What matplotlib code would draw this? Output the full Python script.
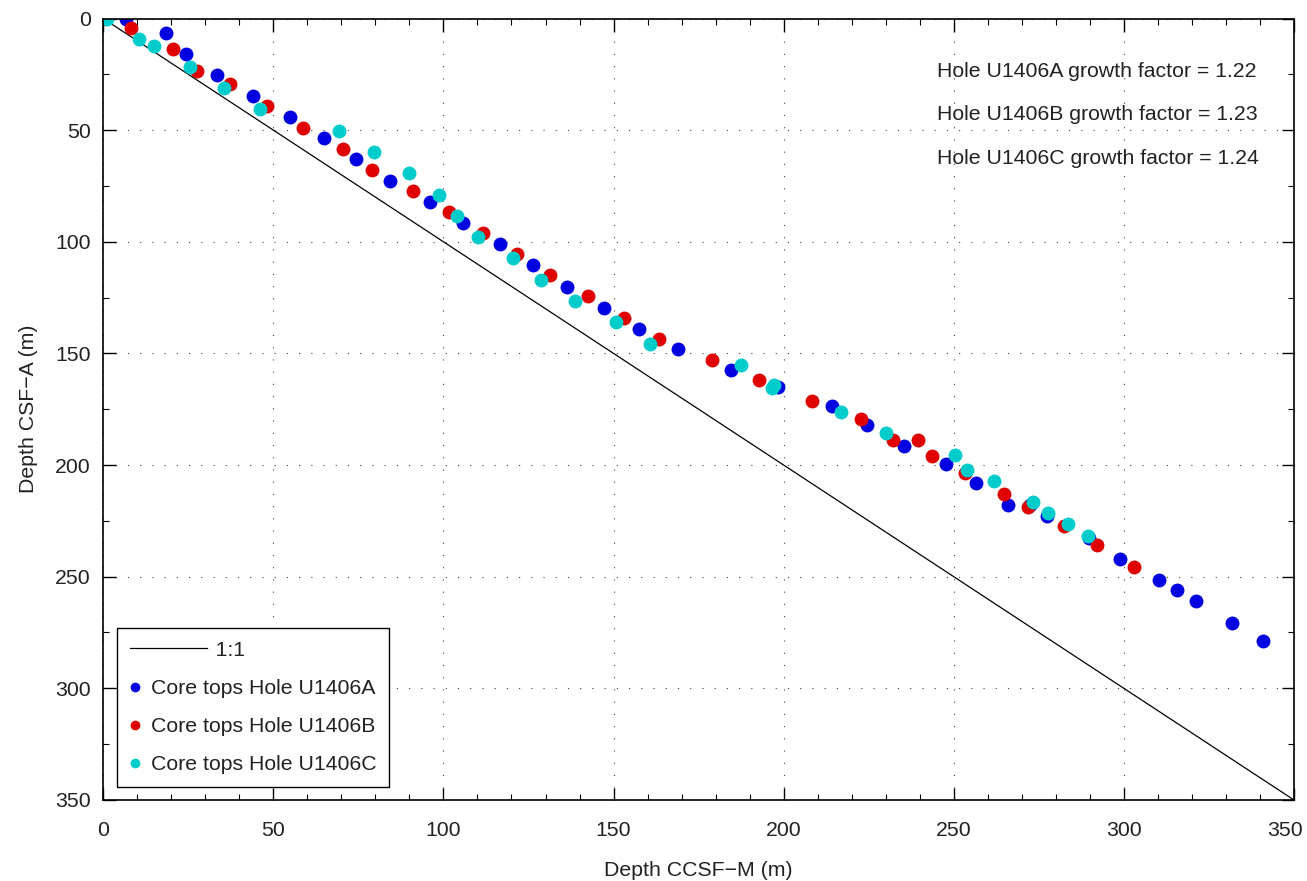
import numpy as np
from matplotlib import pyplot as plt
from matplotlib.lines import Line2D
from matplotlib.legend_handler import HandlerBase
from matplotlib.transforms import ScaledTranslation

plt.rcParams['font.family'] = ['Liberation Sans', 'DejaVu Sans']

# core tops: CCSF-M depth (x) vs CSF-A depth (y)
a_ccsf = [6.6, 18.5, 24.3, 33.4, 43.9, 54.8, 64.9, 74.3, 84.2, 96.1, 105.7, 116.5,
          126.3, 136.3, 147.3, 157.5, 168.9, 184.6, 198.4, 214.2, 224.4, 235.4,
          247.6, 256.4, 265.9, 272.3, 277.5, 289.9, 299.0, 310.2, 315.5, 321.2,
          331.7, 340.8]
a_csf = [0, 6.3, 15.7, 25.4, 34.8, 44.2, 53.7, 63.1, 72.7, 82.2, 91.6, 101.2,
         110.6, 120.3, 129.8, 139.2, 148.2, 157.4, 164.9, 173.7, 181.9, 191.4,
         199.5, 208.2, 217.9, 217.9, 222.8, 232.8, 242.0, 251.7, 255.9, 261.1,
         270.8, 278.9]

b_ccsf = [0, 8.2, 20.5, 27.5, 37.4, 48.2, 58.6, 70.6, 79.1, 91.1, 101.7, 111.5,
          121.6, 131.4, 142.6, 153.1, 163.4, 179.0, 192.9, 208.2, 222.6, 232.2,
          239.6, 243.6, 253.2, 264.9, 271.9, 282.4, 292.1, 303.1]
b_csf = [0, 4.3, 13.7, 23.3, 29.5, 39.3, 48.9, 58.4, 67.7, 77.2, 86.7, 96.2,
         105.4, 114.9, 124.4, 134.2, 143.7, 153.1, 161.7, 171.2, 179.2, 188.8,
         188.8, 195.9, 203.4, 212.9, 219.0, 227.5, 236.0, 245.6]

c_ccsf = [1.2, 10.6, 15.0, 25.5, 35.6, 46.0, 69.3, 79.6, 89.9, 98.6, 103.9, 110.3,
          120.5, 128.8, 138.6, 150.6, 160.6, 187.4, 196.6, 197.1, 216.8, 230.1,
          250.5, 253.8, 261.7, 273.4, 277.6, 283.7, 289.5]
c_csf = [0, 9.3, 12.4, 21.8, 31.3, 40.7, 50.4, 59.8, 69.4, 79.0, 88.4, 97.8,
         107.3, 117.1, 126.5, 135.8, 145.7, 155.1, 165.6, 164.1, 176.1, 185.8,
         195.3, 202.2, 207.1, 216.7, 221.3, 226.4, 231.8]

holes = ['U1406A', 'U1406B', 'U1406C']
growth = [1.22, 1.23, 1.24]
colors = ['#0000e0', '#e00000', '#00cccc']
FS = 15.3


class WideLine(HandlerBase):
    """legend line that is longer than the marker handles"""
    def create_artists(self, legend, orig_handle, xdescent, ydescent,
                       width, height, fontsize, trans):
        y = height / 2 - ydescent
        ln = Line2D([-xdescent, -xdescent + 3.66 * fontsize], [y, y],
                    color='k', lw=0.9, transform=trans)
        return [ln]


fig = plt.figure(figsize=(13.07, 8.81), dpi=100)
ax = fig.add_axes([0.079, 0.092, 0.911, 0.887])

one, = ax.plot([0, 350], [0, 350], color='k', lw=0.9, label=' ' * 11 + '1:1')
for xs, ys, c, h in zip([a_ccsf, b_ccsf, c_ccsf], [a_csf, b_csf, c_csf], colors, holes):
    ax.plot(xs, ys, 'o', color=c, ms=10, mec=c, mew=0, label='Core tops Hole ' + h)

for i, (h, g) in enumerate(zip(holes, growth)):
    ax.text(245.2, 23.6 + i * 19.5, 'Hole %s growth factor = %.2f' % (h, g),
            fontsize=FS, ha='left', va='center', color='#222222')

ax.set_xlim(0, 350)
ax.set_ylim(350, 0)
ax.set_xticks(np.arange(0, 351, 50))
ax.set_yticks(np.arange(0, 351, 50))
ax.set_xticks(np.arange(0, 351, 10), minor=True)
ax.set_yticks(np.arange(0, 351, 25), minor=True)
ax.tick_params(which='both', direction='in', top=True, right=True, labelsize=FS,
               colors='k', labelcolor='#222222')
ax.tick_params(which='major', length=9, width=1)
ax.tick_params(which='minor', length=4, width=0.8)
ax.tick_params(axis='x', pad=15)
ax.tick_params(axis='y', pad=9)
ax.grid(True, which='major', color='0.25', lw=0.8, linestyle=(0, (1, 10)))
for s in ax.spines.values():
    s.set_linewidth(1.2)

# last x label sits a little left of its tick, as in the original export
last = ax.get_xticklabels()[-1]
last.set_transform(last.get_transform() + ScaledTranslation(-0.09, 0, fig.dpi_scale_trans))

ax.set_xlabel('Depth CCSF\u2212M (m)', fontsize=FS, color='#222222', labelpad=15)
ax.set_ylabel('Depth CSF\u2212A (m)', fontsize=FS, color='#222222', labelpad=12)

leg = ax.legend(loc='lower left', bbox_to_anchor=(0.0115, 0.0166), borderaxespad=0,
                fontsize=FS, markerscale=0.7, handlelength=0.5, handletextpad=0.5,
                labelspacing=0.9, borderpad=0.6, fancybox=False, edgecolor='k',
                framealpha=1, handler_map={one: WideLine()})
leg.get_frame().set_linewidth(1.0)
for t in leg.get_texts():
    t.set_color('#222222')

fig.savefig('out.png', dpi=100)
